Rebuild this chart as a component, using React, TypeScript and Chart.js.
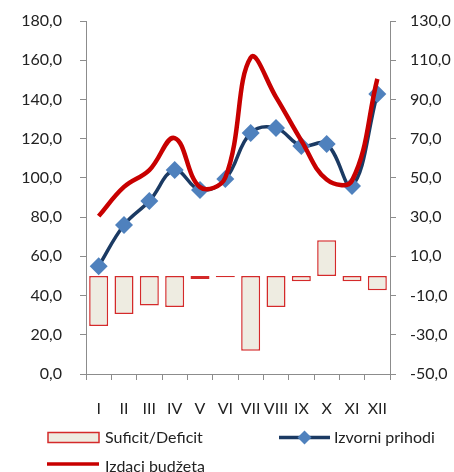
import React, { useEffect, useRef } from 'react';
import { Chart, registerables } from 'chart.js';

Chart.register(...registerables);

const categories = ['I', 'II', 'III', 'IV', 'V', 'VI', 'VII', 'VIII', 'IX', 'X', 'XI', 'XII'];
const revenue = [55.0, 76.0, 88.2, 104.0, 93.8, 99.4, 122.9, 125.4, 116.3, 117.3, 95.9, 142.8];
const expenditure = [80.5, 95.4, 104.0, 120.3, 95.3, 100.2, 161.3, 141.2, 119.0, 99.2, 98.6, 150.5];
const balance = [-25.5, -19.4, -15.1, -15.8, -1.5, -0.7, -38.2, -15.8, -2.7, 18.2, -2.7, -7.3];
const seriesNames = ['Suficit/Deficit', 'Izvorni prihodi', 'Izdaci budžeta'];
const leftAxis = { min: 0, max: 180, step: 20 };
const rightAxis = { min: -50, max: 130, step: 20 };

const FONT = 'Lato';
const TEXT = '#222222';
const AXIS = '#8c8c8c';
const BAR_FILL = '#EEECE1';
const BAR_BORDER = '#D42A2A';
const BLUE_LINE = '#1B3A63';
const BLUE_MARK = '#4F81BD';
const RED_LINE = '#C80000';

const fmt = (v: number | string) => Number(v).toFixed(1).replace('.', ',');

const legendPlugin = {
  id: 'customLegend',
  afterDraw(chart: any) {
    const ctx = chart.ctx as CanvasRenderingContext2D;
    ctx.save();
    ctx.font = `16px ${FONT}`;
    ctx.fillStyle = TEXT;
    ctx.textBaseline = 'middle';
    ctx.textAlign = 'left';
    // item 1: bar
    ctx.fillStyle = BAR_FILL;
    ctx.fillRect(48, 432.5, 51, 10);
    ctx.strokeStyle = BAR_BORDER;
    ctx.lineWidth = 1.5;
    ctx.strokeRect(48, 432.5, 51, 10);
    ctx.fillStyle = TEXT;
    ctx.fillText(seriesNames[0], 105, 438);
    // item 2: blue line with diamond
    ctx.strokeStyle = BLUE_LINE;
    ctx.lineWidth = 3.5;
    ctx.beginPath();
    ctx.moveTo(279, 437.5);
    ctx.lineTo(330, 437.5);
    ctx.stroke();
    ctx.fillStyle = BLUE_MARK;
    ctx.beginPath();
    const r = 7;
    ctx.moveTo(304.5 - r, 437.5);
    ctx.lineTo(304.5, 437.5 - r);
    ctx.lineTo(304.5 + r, 437.5);
    ctx.lineTo(304.5, 437.5 + r);
    ctx.closePath();
    ctx.fill();
    ctx.fillStyle = TEXT;
    ctx.fillText(seriesNames[1], 334, 438);
    // item 3: red line
    ctx.strokeStyle = RED_LINE;
    ctx.lineWidth = 3.5;
    ctx.beginPath();
    ctx.moveTo(47, 464);
    ctx.lineTo(99, 464);
    ctx.stroke();
    ctx.fillStyle = TEXT;
    ctx.fillText(seriesNames[2], 105, 467);
    ctx.restore();
  },
};

const fitY = (w: number) => (s: any) => {
  s.width = w;
  s.paddingTop = 0;
  s.paddingBottom = 0;
};

export default function App() {
  const ref = useRef<HTMLCanvasElement>(null);
  useEffect(() => {
    if (!ref.current) return;
    const chart = new Chart(ref.current, {
      type: 'bar',
      data: {
        labels: categories,
        datasets: [
          {
            type: 'bar',
            label: seriesNames[0],
            data: balance,
            yAxisID: 'y1',
            backgroundColor: BAR_FILL,
            borderColor: BAR_BORDER,
            borderWidth: 1.5,
            borderSkipped: false,
            barPercentage: 0.75,
            categoryPercentage: 1,
            order: 3,
          },
          {
            type: 'line',
            label: seriesNames[1],
            data: revenue,
            yAxisID: 'y',
            borderColor: BLUE_LINE,
            borderWidth: 3.5,
            tension: 0.4,
            pointStyle: 'rectRot',
            pointRadius: 9,
            pointBackgroundColor: BLUE_MARK,
            pointBorderWidth: 0,
            pointBorderColor: BLUE_MARK,
            order: 2,
          },
          {
            type: 'line',
            label: seriesNames[2],
            data: expenditure,
            yAxisID: 'y',
            borderColor: RED_LINE,
            borderWidth: 4.5,
            tension: 0.4,
            pointRadius: 0,
            order: 1,
          },
        ],
      },
      options: {
        animation: false,
        responsive: true,
        maintainAspectRatio: false,
        layout: { autoPadding: false, padding: { top: 21, bottom: 54, left: 0, right: 0 } },
        plugins: {
          legend: { display: false },
          tooltip: { enabled: false },
        },
        scales: {
          x: {
            offset: true,
            grid: { drawOnChartArea: false, offset: true, tickLength: 6, color: AXIS },
            border: { color: AXIS, width: 1 },
            ticks: { font: { family: FONT, size: 16 }, color: TEXT, padding: 19, maxRotation: 0, autoSkip: false },
            afterFit: (s: any) => { s.height = 44; s.paddingLeft = 0; s.paddingRight = 0; },
          },
          y: {
            position: 'left',
            min: leftAxis.min,
            max: leftAxis.max,
            grid: { drawOnChartArea: false, tickLength: 6, color: AXIS },
            border: { color: AXIS, width: 1 },
            ticks: { stepSize: leftAxis.step, font: { family: FONT, size: 16 }, color: TEXT, padding: 18, callback: (v: any) => fmt(v) },
            afterFit: fitY(86),
          },
          y1: {
            position: 'right',
            min: rightAxis.min,
            max: rightAxis.max,
            grid: { drawOnChartArea: false, tickLength: 6, color: AXIS },
            border: { color: AXIS, width: 1 },
            ticks: { stepSize: rightAxis.step, font: { family: FONT, size: 16 }, color: TEXT, padding: 14, callback: (v: any) => fmt(v) },
            afterFit: fitY(64),
          },
        },
      },
      plugins: [legendPlugin],
    } as any);
    return () => chart.destroy();
  }, []);
  return (
    <div style={{ position: 'fixed', left: 0, top: 0, width: 454, height: 472, background: '#fff' }}>
      <canvas ref={ref} />
    </div>
  );
}
